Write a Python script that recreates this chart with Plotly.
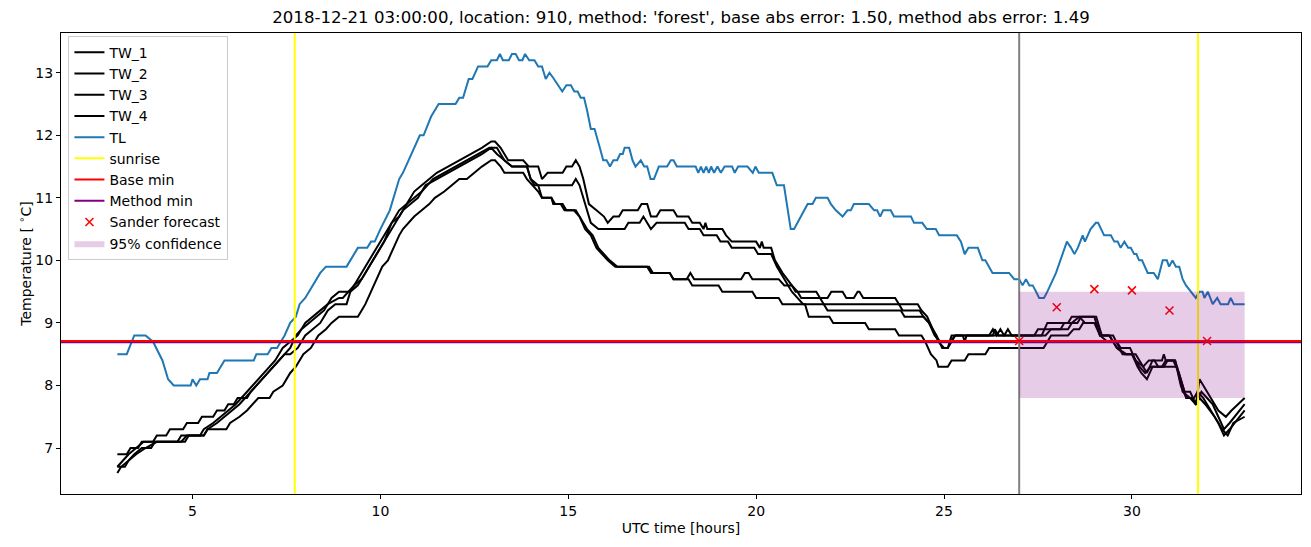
import plotly.graph_objects as go

# ---------------- data ----------------
title_text = "2018-12-21 03:00:00, location: 910, method: 'forest', base abs error: 1.50, method abs error: 1.49"

tl_pts = [(3.0,8.5),(3.25,8.5),(3.45,8.8),(3.75,8.8),(3.95,8.7),(4.2,8.4),(4.35,8.1),(4.5,8.0),(4.95,8.0),(5.0,8.1),
          (5.1,8.0),(5.2,8.1),(5.4,8.1),(5.45,8.2),(5.65,8.2),(5.75,8.3),(5.85,8.4),(6.63,8.4),(6.7,8.5),(7.0,8.5),
          (7.1,8.6),(7.25,8.6),(7.35,8.7),(7.45,8.8),(7.6,9.0),(7.75,9.1),(7.85,9.3),(8.0,9.4),(8.1,9.5),(8.2,9.6),
          (8.4,9.8),(8.55,9.9),(9.1,9.9),(9.2,10.0),(9.3,10.1),(9.4,10.2),(9.65,10.2),(9.75,10.3),(9.85,10.3),(10.0,10.5),
          (10.25,10.8),(10.5,11.3),(10.6,11.4),(10.75,11.6),(10.9,11.8),(11.05,12.0),(11.15,12.0),(11.35,12.3),(11.55,12.5),(12.0,12.5),
          (12.1,12.6),(12.2,12.6),(12.35,12.9),(12.45,12.9),(12.6,13.1),(12.85,13.1),(12.95,13.2),(13.1,13.2),(13.18,13.3),(13.26,13.2),
          (13.42,13.2),(13.5,13.3),(13.6,13.3),(13.69,13.2),(13.78,13.2),(13.85,13.3),(13.96,13.2),(14.1,13.2),(14.2,13.1),(14.3,13.1),
          (14.4,12.9),(14.5,13.0),(14.62,12.9),(14.84,12.7),(14.95,12.8),(15.07,12.8),(15.16,12.7),(15.25,12.7),(15.33,12.6),(15.42,12.6),
          (15.5,12.4),(15.6,12.1),(15.7,12.1),(15.78,11.9),(15.84,11.8),(15.93,11.6),(16.02,11.6),(16.11,11.5),(16.2,11.6),(16.3,11.6),
          (16.38,11.7),(16.45,11.7),(16.5,11.8),(16.62,11.8),(16.71,11.6),(16.79,11.5),(16.93,11.6),(17.02,11.5),(17.1,11.5),(17.19,11.3),
          (17.28,11.3),(17.41,11.5),(17.63,11.5),(17.73,11.6),(17.8,11.6),(17.89,11.5),(18.39,11.5),(18.46,11.4),(18.53,11.5),(18.6,11.4),
          (18.67,11.5),(18.74,11.4),(18.8,11.5),(18.88,11.4),(18.97,11.5),(19.06,11.4),(19.16,11.5),(19.36,11.5),(19.43,11.4),(19.52,11.5),
          (19.77,11.5),(19.91,11.4),(19.98,11.5),(20.07,11.4),(20.43,11.4),(20.55,11.2),(20.74,11.2),(20.92,10.5),(21.01,10.5),(21.37,10.9),
          (21.5,10.9),(21.59,11.0),(21.9,11.0),(21.99,10.9),(22.12,10.8),(22.3,10.7),(22.43,10.8),(22.52,10.8),(22.6,10.9),(23.0,10.9),
          (23.14,10.8),(23.22,10.8),(23.3,10.7),(23.38,10.8),(23.58,10.8),(23.67,10.7),(24.12,10.7),(24.2,10.6),(24.42,10.6),(24.54,10.5),
          (24.78,10.5),(24.87,10.4),(25.34,10.4),(25.45,10.3),(25.55,10.1),(25.65,10.2),(25.9,10.2),(26.02,10.0),(26.1,10.0),(26.29,9.8),
          (26.73,9.8),(26.87,9.7),(27.0,9.7),(27.09,9.6),(27.18,9.7),(27.27,9.6),(27.36,9.6),(27.45,9.5),(27.53,9.4),(27.66,9.4),
          (27.75,9.5),(27.98,9.8),(28.2,10.2),(28.27,10.3),(28.38,10.2),(28.47,10.1),(28.56,10.2),(28.69,10.4),(28.75,10.3),(28.9,10.5),
          (29.04,10.6),(29.1,10.6),(29.26,10.4),(29.44,10.4),(29.53,10.3),(29.62,10.3),(29.7,10.2),(29.8,10.3),(29.9,10.2),(29.97,10.2),
          (30.06,10.1),(30.12,10.1),(30.19,10.0),(30.27,10.0),(30.42,9.8),(30.58,9.8),(30.69,9.7),(30.82,10.0),(30.93,10.0),(30.99,9.9),
          (31.08,10.0),(31.17,9.9),(31.26,9.9),(31.35,9.7),(31.44,9.6),(31.57,9.5),(31.7,9.4),(31.79,9.5),(31.88,9.5),(31.93,9.4),
          (32.02,9.5),(32.15,9.3),(32.27,9.4),(32.36,9.3),(32.56,9.3),(32.63,9.4),(32.71,9.3),(33.0,9.3)]

tw1_pts = [(3.0,6.9),(3.25,6.9),(3.35,7.0),(3.55,7.0),(3.65,7.1),(3.95,7.1),(4.05,7.2),(4.3,7.2),(4.4,7.3),(4.75,7.3),
           (4.85,7.4),(5.15,7.4),(5.25,7.5),(5.55,7.5),(5.65,7.6),(5.85,7.6),(5.95,7.7),(6.1,7.7),(6.2,7.8),(6.45,7.8),
           (6.55,7.9),(6.7,8.0),(6.85,8.1),(7.0,8.2),(7.15,8.3),(7.3,8.4),(7.45,8.5),(7.6,8.6),(7.75,8.8),(7.9,8.9),
           (8.1,9.0),(8.3,9.1),(8.5,9.2),(8.7,9.4),(8.9,9.5),(9.2,9.5),(9.3,9.6),(9.5,9.7),(9.7,9.9),(9.9,10.1),
           (10.1,10.3),(10.3,10.6),(10.5,10.8),(10.7,10.9),(10.9,11.1),(11.1,11.2),(11.3,11.3),(11.5,11.4),(11.8,11.5),(12.1,11.6),
           (12.4,11.7),(12.7,11.8),(12.95,11.9),(13.05,11.9),(13.2,11.8),(13.4,11.6),(13.8,11.6),(13.95,11.5),(14.2,11.5),(14.3,11.3),
           (14.45,11.4),(14.85,11.4),(14.95,11.5),(15.1,11.5),(15.2,11.6),(15.3,11.5),(15.4,11.3),(15.55,10.9),(15.75,10.8),(15.95,10.7),
           (16.05,10.6),(16.2,10.7),(16.35,10.7),(16.45,10.8),(16.85,10.8),(16.95,10.9),(17.1,10.9),(17.2,10.7),(17.35,10.7),(17.45,10.8),
           (17.8,10.8),(17.9,10.7),(18.2,10.7),(18.3,10.6),(18.5,10.6),(18.6,10.5),(18.65,10.6),(18.7,10.5),(19.1,10.5),(19.2,10.4),
           (19.35,10.3),(20.0,10.3),(20.1,10.2),(20.15,10.3),(20.2,10.2),(20.4,10.2),(20.5,10.0),(20.7,9.8),(20.95,9.6),(21.1,9.5),
           (21.2,9.4),(21.9,9.4),(22.0,9.5),(22.3,9.5),(22.4,9.4),(22.6,9.4),(22.7,9.5),(22.75,9.5),(22.85,9.4),(23.7,9.4),
           (23.8,9.3),(24.3,9.3),(24.4,9.2),(24.55,9.1),(24.7,8.9),(24.85,8.7),(25.0,8.6),(25.1,8.6),(25.2,8.8),(26.2,8.8),
           (26.3,8.9),(26.4,8.8),(26.5,8.9),(26.6,8.8),(27.4,8.8),(27.5,8.9),(28.1,8.9),(28.2,9.0),(28.55,9.0),(28.65,9.1),
           (29.05,9.1),(29.2,8.8),(29.5,8.8),(29.75,8.5),(30.1,8.5),(30.2,8.4),(30.4,8.2),(30.55,8.4),(30.8,8.4),(30.85,8.5),
           (30.9,8.4),(31.1,8.4),(31.25,8.2),(31.4,7.9),(31.55,7.9),(31.7,7.7),(31.8,8.1),(32.0,7.9),(32.1,7.8),(32.3,7.6),
           (32.5,7.5),(32.65,7.6),(33.0,7.8)]

tw2_pts = [(3.0,6.7),(3.15,6.8),(3.3,6.9),(3.5,7.0),(3.7,7.1),(4.6,7.1),(4.7,7.2),(5.2,7.2),(5.3,7.3),(5.55,7.4),
           (5.75,7.5),(5.95,7.6),(6.15,7.7),(6.3,7.8),(6.45,7.9),(6.6,8.0),(6.75,8.1),(6.9,8.2),(7.05,8.3),(7.2,8.4),
           (7.4,8.6),(7.6,8.7),(7.8,8.8),(8.0,9.0),(8.2,9.1),(8.4,9.2),(8.6,9.3),(8.9,9.4),(9.0,9.4),(9.3,9.6),
           (9.5,9.8),(9.7,10.0),(9.9,10.2),(10.1,10.4),(10.3,10.6),(10.5,10.7),(10.7,10.9),(10.9,11.0),(11.1,11.1),(11.4,11.3),
           (11.7,11.4),(12.0,11.5),(12.3,11.6),(12.6,11.7),(12.9,11.8),(13.1,11.8),(13.3,11.6),(13.5,11.5),(13.9,11.5),(14.0,11.3),
           (14.1,11.2),(15.1,11.2),(15.2,11.3),(15.3,11.2),(15.45,10.9),(15.6,10.6),(15.8,10.5),(16.5,10.5),(16.6,10.6),(16.9,10.6),
           (17.0,10.7),(17.1,10.6),(17.2,10.5),(17.35,10.6),(18.1,10.6),(18.2,10.5),(18.5,10.5),(18.6,10.4),(18.95,10.4),(19.05,10.3),
           (19.25,10.3),(19.35,10.2),(19.95,10.2),(20.05,10.1),(20.4,10.1),(20.55,9.9),(20.75,9.7),(20.95,9.5),(21.1,9.4),(21.25,9.3),
           (21.8,9.3),(21.9,9.2),(23.85,9.2),(23.95,9.1),(24.45,9.1),(24.6,9.0),(24.8,8.8),(24.95,8.6),(25.1,8.6),(25.3,8.8),
           (25.5,8.8),(25.55,8.7),(25.6,8.8),(26.6,8.8),(26.7,8.9),(26.8,8.8),(27.7,8.8),(27.85,8.9),(28.3,8.9),(28.4,9.0),
           (28.6,9.1),(29.0,9.1),(29.1,8.9),(29.15,8.8),(29.4,8.8),(29.5,8.7),(29.6,8.6),(29.85,8.5),(30.0,8.5),(30.15,8.3),
           (30.25,8.2),(30.4,8.1),(30.55,8.3),(30.8,8.3),(30.9,8.4),(31.15,8.4),(31.3,8.0),(31.45,7.8),(31.6,7.8),(31.7,7.7),
           (31.85,7.9),(32.0,7.8),(32.15,7.7),(32.3,7.5),(32.45,7.3),(32.6,7.4),(33.0,7.7)]

tw3_pts = [(3.0,6.7),(3.2,6.7),(3.3,6.8),(3.5,6.9),(3.75,7.0),(4.05,7.1),(4.7,7.1),(4.85,7.2),(5.3,7.2),(5.4,7.3),
           (5.65,7.4),(5.85,7.5),(6.05,7.6),(6.25,7.7),(6.4,7.8),(6.55,7.9),(6.7,8.0),(6.85,8.1),(7.0,8.2),(7.15,8.3),
           (7.3,8.4),(7.45,8.5),(7.6,8.5),(7.8,8.6),(8.0,8.8),(8.2,8.9),(8.4,9.0),(8.6,9.2),(8.8,9.3),(9.1,9.3),
           (9.2,9.5),(9.4,9.6),(9.6,9.8),(9.8,10.0),(10.0,10.2),(10.2,10.4),(10.4,10.6),(10.6,10.8),(10.8,10.9),(11.0,11.0),
           (11.2,11.2),(11.5,11.3),(11.8,11.4),(12.1,11.5),(12.4,11.6),(12.7,11.7),(12.95,11.8),(13.1,11.7),(13.3,11.6),(13.5,11.5),
           (13.9,11.5),(14.0,11.3),(14.2,11.2),(14.3,11.0),(14.55,11.0),(14.6,10.9),(14.8,10.9),(14.9,10.8),(15.2,10.8),(15.3,10.7),
           (15.45,10.5),(15.6,10.4),(15.75,10.2),(15.9,10.1),(16.05,10.0),(16.25,9.9),(17.1,9.9),(17.2,9.8),(17.7,9.8),(17.8,9.7),
           (18.15,9.7),(18.25,9.8),(18.35,9.7),(19.6,9.7),(19.7,9.8),(19.8,9.8),(19.9,9.7),(20.6,9.7),(20.75,9.6),(20.95,9.6),
           (21.05,9.5),(21.6,9.5),(21.7,9.4),(21.8,9.3),(23.8,9.3),(23.9,9.2),(24.35,9.2),(24.45,9.1),(24.6,9.0),(24.75,8.8),
           (24.9,8.7),(25.15,8.7),(25.3,8.8),(26.3,8.8),(26.35,8.9),(26.45,8.8),(27.6,8.8),(27.75,9.0),(28.3,9.0),(28.4,9.1),
           (28.6,9.1),(28.75,9.0),(29.05,9.0),(29.15,8.8),(29.4,8.8),(29.6,8.6),(29.8,8.5),(30.0,8.5),(30.1,8.4),(30.3,8.3),
           (30.45,8.4),(30.6,8.4),(30.7,8.3),(31.2,8.3),(31.35,7.9),(31.55,7.8),(31.7,7.7),(31.8,7.8),(31.95,7.7),(32.2,7.5),
           (32.4,7.3),(32.55,7.2),(32.7,7.4),(33.0,7.5)]

tw4_pts = [(3.0,6.6),(3.1,6.7),(3.3,6.8),(3.45,6.9),(3.65,7.0),(3.9,7.0),(4.0,7.1),(4.8,7.1),(4.9,7.2),(5.3,7.2),
           (5.4,7.3),(5.9,7.3),(6.0,7.4),(6.25,7.5),(6.45,7.6),(6.6,7.7),(6.75,7.8),(7.05,7.8),(7.15,7.9),(7.4,8.0),
           (7.6,8.2),(7.75,8.3),(7.95,8.5),(8.15,8.6),(8.35,8.8),(8.55,8.9),(8.7,9.0),(8.9,9.1),(9.4,9.1),(9.5,9.2),
           (9.6,9.3),(9.75,9.5),(9.9,9.7),(10.05,9.9),(10.2,10.0),(10.35,10.2),(10.5,10.4),(10.6,10.5),(10.75,10.6),(10.9,10.7),
           (11.1,10.8),(11.3,10.9),(11.45,11.0),(11.7,11.1),(11.9,11.2),(12.1,11.3),(12.3,11.3),(12.5,11.4),(12.7,11.5),(12.95,11.6),
           (13.05,11.6),(13.2,11.5),(13.3,11.4),(13.8,11.4),(13.9,11.3),(14.05,11.2),(14.2,11.1),(14.3,11.0),(14.55,11.0),(14.65,10.9),
           (14.85,10.9),(14.95,10.8),(15.15,10.8),(15.3,10.7),(15.5,10.5),(15.65,10.4),(15.8,10.2),(15.95,10.1),(16.1,10.0),(16.3,9.9),
           (17.15,9.9),(17.25,9.8),(17.7,9.8),(17.8,9.7),(18.2,9.7),(18.3,9.6),(19.0,9.6),(19.1,9.5),(19.9,9.5),(20.0,9.4),
           (20.6,9.4),(20.7,9.3),(21.3,9.3),(21.4,9.1),(21.95,9.1),(22.05,9.0),(22.9,9.0),(23.0,8.9),(23.7,8.9),(23.8,8.8),
           (24.4,8.8),(24.5,8.7),(24.65,8.5),(24.8,8.4),(24.85,8.3),(25.1,8.3),(25.2,8.4),(25.55,8.4),(25.65,8.5),(26.1,8.5),
           (26.2,8.6),(27.65,8.6),(27.75,8.7),(27.85,8.8),(28.3,8.8),(28.45,8.9),(28.6,8.9),(28.7,9.0),(29.0,9.0),(29.15,8.8),
           (29.35,8.7),(29.6,8.7),(29.7,8.6),(29.95,8.6),(30.1,8.4),(30.2,8.3),(30.35,8.2),(30.5,8.3),(30.85,8.3),(30.95,8.4),
           (31.15,8.4),(31.3,8.1),(31.45,7.8),(31.65,7.8),(31.75,7.9),(31.9,7.8),(32.1,7.6),(32.3,7.4),(32.45,7.2),(32.6,7.3),
           (33.0,7.6)]

sunrise_times = [7.72, 31.76]
forecast_time = 27.0
base_min = 8.71
method_min = 8.69
sander_t = [27, 28, 29, 30, 31, 32]
sander_v = [8.71, 9.25, 9.54, 9.52, 9.20, 8.71]
conf_t = [27.0, 33.0]
conf_lo = 7.8
conf_hi = 9.5

x_ticks = [5, 10, 15, 20, 25, 30]
y_ticks = [7, 8, 9, 10, 11, 12, 13]
x_range = [1.5, 34.5]
y_range = [6.265, 13.635]

# ---------------- figure ----------------
FONT = "DejaVu Sans"
LW = 2.0
fig = go.Figure()


def unzip(pts):
    return [p[0] for p in pts], [p[1] for p in pts]


for i, pts in enumerate([tw1_pts, tw2_pts, tw3_pts, tw4_pts], start=1):
    xs, ys = unzip(pts)
    fig.add_trace(go.Scatter(x=xs, y=ys, mode="lines", name=f"TW_{i}", legendgroup=f"g{i}",
                             line=dict(color="black", width=LW)))

xs, ys = unzip(tl_pts)
fig.add_trace(go.Scatter(x=xs, y=ys, mode="lines", name="TL", legendgroup="g5",
                         line=dict(color="#1f77b4", width=LW)))

# sunrise vertical lines
sx, sy = [], []
for s in sunrise_times:
    sx += [s, s, None]
    sy += [y_range[0] - 5, y_range[1] + 5, None]
fig.add_trace(go.Scatter(x=sx, y=sy, mode="lines", name="sunrise", legendgroup="g6",
                         line=dict(color="yellow", width=LW)))

fig.add_trace(go.Scatter(x=[x_range[0] - 5, x_range[1] + 5], y=[base_min, base_min], mode="lines",
                         name="Base min", legendgroup="g7", line=dict(color="red", width=LW)))
fig.add_trace(go.Scatter(x=[x_range[0] - 5, x_range[1] + 5], y=[method_min, method_min], mode="lines",
                         name="Method min", legendgroup="g8", line=dict(color="purple", width=LW)))
fig.add_trace(go.Scatter(x=[x_range[0] - 5, x_range[1] + 5], y=[base_min, base_min], mode="lines",
                         showlegend=False, line=dict(color="red", width=1.8), hoverinfo="skip"))

# forecast time vertical line
fig.add_trace(go.Scatter(x=[forecast_time, forecast_time], y=[y_range[0] - 5, y_range[1] + 5], mode="lines",
                         showlegend=False, line=dict(color="gray", width=LW)))

fig.add_trace(go.Scatter(x=sander_t, y=sander_v, mode="markers", name="Sander forecast", legendgroup="g9",
                         marker=dict(symbol="x-thin", size=8, line=dict(color="red", width=1.5), color="red")))

fig.add_trace(go.Scatter(x=[conf_t[0], conf_t[1], conf_t[1], conf_t[0], conf_t[0]],
                         y=[conf_lo, conf_lo, conf_hi, conf_hi, conf_lo],
                         mode="lines", fill="toself", fillcolor="rgba(128,0,128,0.2)",
                         line=dict(width=0, color="rgba(128,0,128,0)"), name="95% confidence", legendgroup="g10"))

axis_common = dict(showline=True, mirror=True, linecolor="black", linewidth=1, showgrid=False, zeroline=False,
                   ticks="outside", ticklen=4, tickwidth=1, tickcolor="black",
                   tickfont=dict(family=FONT, size=14, color="black"))

fig.update_layout(
    width=1311, height=547,
    margin=dict(l=61, r=10, t=33, b=53),
    paper_bgcolor="white", plot_bgcolor="white",
    title=dict(text=title_text, x=(61 + 1301) / 2 / 1311, xanchor="center", y=1 - 17 / 547, yanchor="middle",
               font=dict(family=FONT, size=16.6, color="black")),
    xaxis=dict(range=x_range, tickvals=x_ticks, title=dict(text="UTC time [hours]", standoff=5,
               font=dict(family=FONT, size=14, color="black")), **axis_common),
    yaxis=dict(range=y_range, tickvals=y_ticks, title=dict(text="Temperature [ <sup>∘</sup>C]", standoff=0,
               font=dict(family=FONT, size=14, color="black")), **axis_common),
    legend=dict(x=0.006, y=0.994, xanchor="left", yanchor="top", bgcolor="rgba(255,255,255,0.8)",
                bordercolor="#cccccc", borderwidth=1, font=dict(family=FONT, size=14, color="black"),
                tracegroupgap=0, itemwidth=30),
    showlegend=True,
)

fig.write_html("out.html")
